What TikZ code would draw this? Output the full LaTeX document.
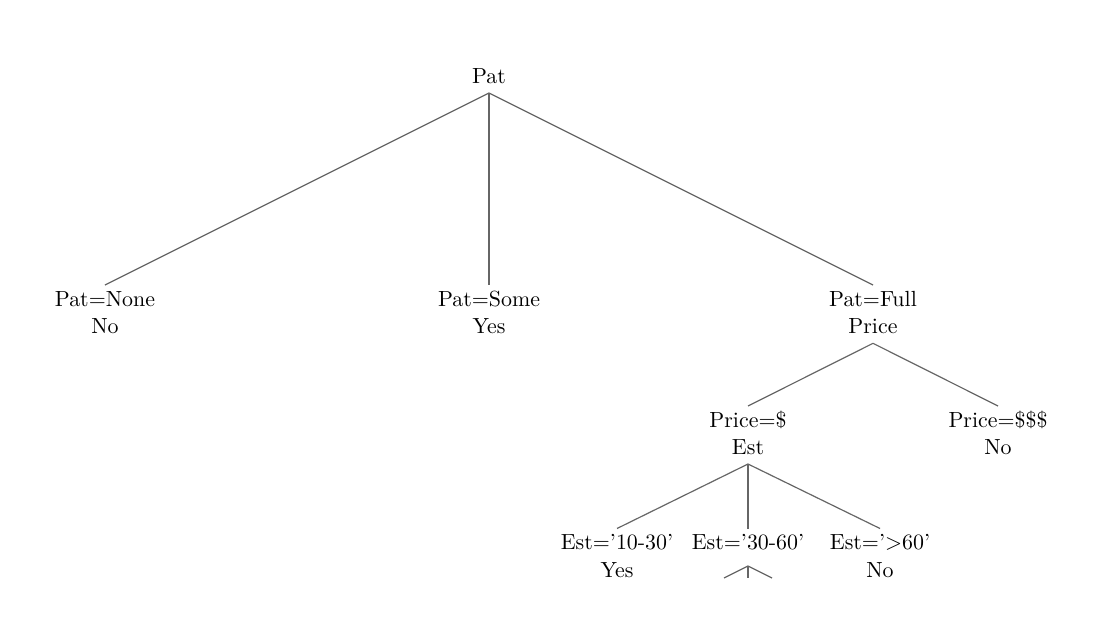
\documentclass[tikz,border=0pt]{standalone}
\begin{document}
\begin{tikzpicture}[x=0.5pt,y=-0.5pt,
  lbl/.style={anchor=base, inner sep=0pt, outer sep=0pt, text height=10.5pt, text depth=5pt,
    font=\fontsize{10.95}{13.6}\selectfont},
  branch/.style={draw=black!60, line width=0.6pt}]
\useasboundingbox (0,0) rectangle (1098,638);
% level 0
\node[lbl] (pat) at (489,83) {Pat};
% level 1
\node[lbl] (none) at (105,306) {Pat=None};
\node[lbl] (noneres) at (105,333.3) {No};
\node[lbl] (some) at (489,306) {Pat=Some};
\node[lbl] (someres) at (489,333.3) {Yes};
\node[lbl] (full) at (873,306) {Pat=Full};
\node[lbl] (price) at (873,333.3) {Price};
% level 2
\node[lbl] (cheap) at (748,427) {Price=\$};
\node[lbl] (est) at (748,454) {Est};
\node[lbl] (dear) at (998,427) {Price=\$\$\$};
\node[lbl] (dearres) at (998,454) {No};
% level 3
\node[lbl] (e1) at (617,549.5) {Est='10-30'};
\node[lbl] (e1res) at (617,577) {Yes};
\node[lbl] (e2) at (748,549.5) {Est='30-60'};
\node[lbl] (e3) at (880,549.5) {Est='$>$60'};
\node[lbl] (e3res) at (880,577) {No};
% truncated subtree below Est='30-60'
\coordinate (stub) at (748,566);
\coordinate (s1) at (724,578);
\coordinate (s2) at (748,578);
\coordinate (s3) at (772,578);
% connectors
\draw[branch] (pat.south) -- (none.north);
\draw[branch] (pat.south) -- (some.north);
\draw[branch] (pat.south) -- (full.north);
\draw[branch] (price.south) -- (cheap.north);
\draw[branch] (price.south) -- (dear.north);
\draw[branch] (est.south) -- (e1.north);
\draw[branch] (est.south) -- (e2.north);
\draw[branch] (est.south) -- (e3.north);
\draw[branch] (stub) -- (s1);
\draw[branch] (stub) -- (s2);
\draw[branch] (stub) -- (s3);
\end{tikzpicture}
\end{document}
